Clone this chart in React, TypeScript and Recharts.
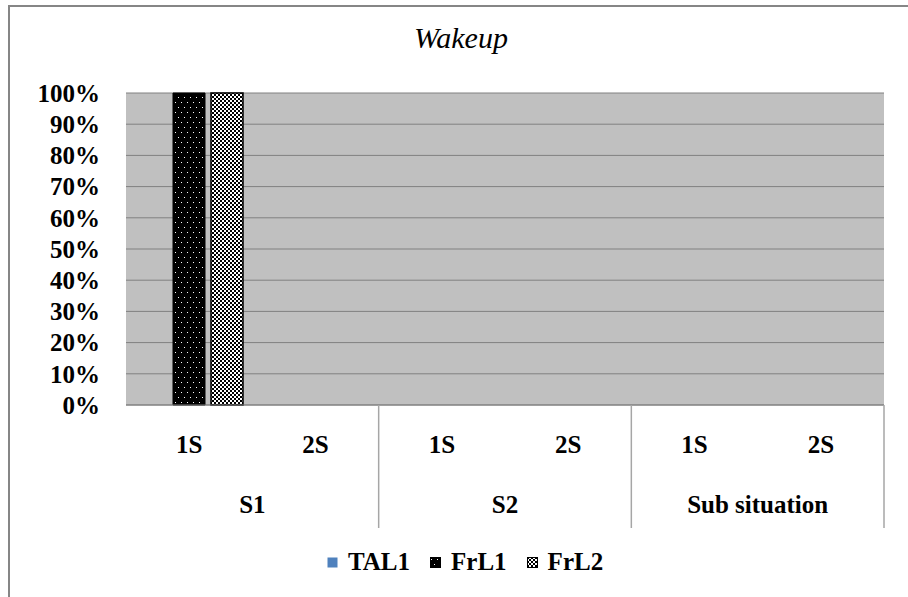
import React from 'react';
import { BarChart, Bar, XAxis, YAxis, CartesianGrid } from 'recharts';

const subCategories = ['1S', '2S', '1S', '2S', '1S', '2S'];
const groupLabels = ['S1', 'S1', 'S2', 'S2', 'Sub situation', 'Sub situation'];
const tal1Values = [0, 0, 0, 0, 0, 0];
const frl1Values = [100, 0, 0, 0, 0, 0];
const frl2Values = [100, 0, 0, 0, 0, 0];
const yTicks = [0, 10, 20, 30, 40, 50, 60, 70, 80, 90, 100];
const seriesNames = ['TAL1', 'FrL1', 'FrL2'];
const titleText = 'Wakeup';

const data = subCategories.map((s, i) => ({
  id: 'c' + i,
  sub: s,
  group: groupLabels[i],
  TAL1: tal1Values[i],
  FrL1: frl1Values[i],
  FrL2: frl2Values[i],
}));

const FONT = "'Liberation Serif', Tinos, 'Times New Roman', Times, 'DejaVu Serif', 'Noto Serif', serif";

const XTick = (props: any) => {
  const { x, y, index, width, visibleTicksCount } = props;
  const band = width / visibleTicksCount;
  const d = data[index];
  const isEnd = index === data.length - 1 || data[index + 1].group !== d.group;
  let count = 0;
  for (let j = index; j >= 0 && data[j].group === d.group; j--) count++;
  const groupCenter = x - ((count - 1) * band) / 2;
  return (
    <g>
      <text x={x} y={y + 48} textAnchor="middle" style={{ fontFamily: FONT }} fontWeight="bold" fontSize={25} fill="#000">
        {d.sub}
      </text>
      {isEnd && (
        <>
          <line x1={x + band / 2} x2={x + band / 2} y1={y} y2={y + 123} stroke="#A6A6A6" strokeWidth={1.5} />
          <text x={groupCenter} y={y + 108} textAnchor="middle" style={{ fontFamily: FONT }} fontWeight="bold" fontSize={25} fill="#000">
            {d.group}
          </text>
        </>
      )}
    </g>
  );
};

const legendFills = ['#4F81BD', 'url(#dotsPat)', 'url(#checkPat)'];

export default function App() {
  return (
    <div style={{ position: 'absolute', left: 0, top: 0, width: 908, height: 597, background: '#fff', overflow: 'hidden', fontFamily: FONT }}>
      <div
        style={{
          position: 'absolute',
          left: 8,
          top: 5,
          width: 900,
          height: 592,
          borderLeft: '2px solid #868686',
          borderTop: '2px solid #868686',
          boxSizing: 'border-box',
        }}
      />
      <BarChart
        width={908}
        height={597}
        data={data}
        margin={{ top: 93, right: 24, left: 0, bottom: 0 }}
        barCategoryGap={9}
        barGap={6}
        style={{ position: 'absolute', left: 0, top: 0, fontFamily: FONT }}
      >
        <defs>
          <pattern id="dotsPat" width="6" height="10" patternUnits="userSpaceOnUse">
            <rect width="6" height="10" fill="#000" />
            <rect x="1" y="2" width="1" height="1" fill="#fff" />
            <rect x="4" y="7" width="1" height="1" fill="#fff" />
          </pattern>
          <pattern id="checkPat" width="4" height="4" patternUnits="userSpaceOnUse">
            <rect width="4" height="4" fill="#fff" />
            <rect x="0" y="0" width="2" height="2" fill="#000" />
            <rect x="2" y="2" width="2" height="2" fill="#000" />
          </pattern>
        </defs>
        <CartesianGrid vertical={false} stroke="#808080" fill="#C0C0C0" fillOpacity={1} />
        <XAxis
          dataKey="id"
          height={192}
          tickLine={false}
          tickSize={0}
          tickMargin={0}
          axisLine={{ stroke: '#808080' }}
          interval={0}
          tick={<XTick />}
        />
        <YAxis
          width={126}
          domain={[0, 100]}
          ticks={yTicks}
          interval={0}
          axisLine={false}
          tickLine={false}
          tickSize={0}
          tickMargin={26}
          tickFormatter={(v: number) => v + '%'}
          tick={{ style: { fontFamily: FONT }, fontWeight: 'bold', fontSize: 25, fill: '#000' }}
        />
        <Bar dataKey="TAL1" fill="#4F81BD" isAnimationActive={false} />
        <Bar dataKey="FrL1" fill="url(#dotsPat)" stroke="#000" strokeWidth={1} isAnimationActive={false} />
        <Bar dataKey="FrL2" fill="url(#checkPat)" stroke="#000" strokeWidth={1.5} isAnimationActive={false} />
      </BarChart>
      <div
        style={{
          position: 'absolute',
          left: 0,
          top: 20,
          width: 922,
          textAlign: 'center',
          fontFamily: FONT,
          fontStyle: 'italic',
          fontSize: 30,
          lineHeight: '36px',
          color: '#000',
        }}
      >
        {titleText}
      </div>
      <div
        style={{
          position: 'absolute',
          left: 327,
          top: 547,
          display: 'flex',
          alignItems: 'center',
          fontFamily: FONT,
          fontWeight: 'bold',
          fontSize: 25,
          lineHeight: '30px',
          color: '#000',
        }}
      >
        {seriesNames.map((n, i) => (
          <div key={n} style={{ display: 'flex', alignItems: 'center', marginRight: 20 }}>
            <svg width={11} height={11} style={{ marginRight: 10 }}>
              <rect x={0.5} y={0.5} width={10} height={10} fill={legendFills[i]} stroke={i === 0 ? 'none' : '#000'} />
            </svg>
            <span>{n}</span>
          </div>
        ))}
      </div>
    </div>
  );
}
